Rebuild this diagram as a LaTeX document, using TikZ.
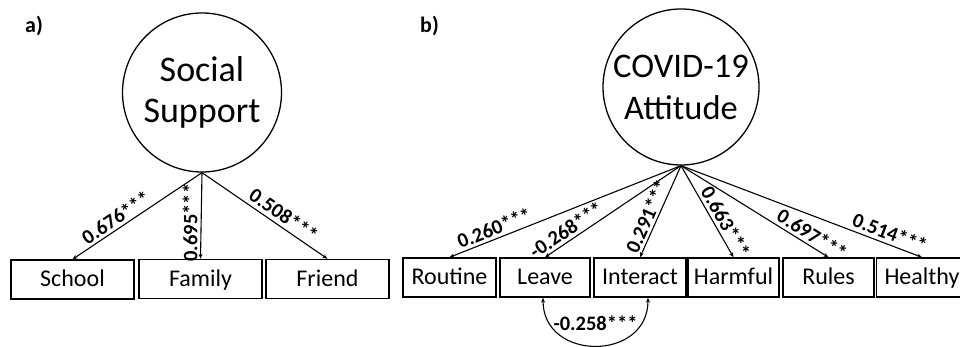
\documentclass[tikz,border=0pt]{standalone}
\usepackage{fontspec}
\setmainfont{Carlito}
\usetikzlibrary{arrows.meta}
\tikzset{
  lat/.style={circle, draw, line width=1.3pt, inner sep=0pt, align=center},
  obs/.style={rectangle, draw, line width=1.4pt, inner sep=0pt, minimum height=39pt, text height=18pt, text depth=4pt, font=\fontsize{24}{28}\selectfont},
  load/.style={line width=1.1pt, -{Stealth[length=5pt,width=4pt]}},
  cov/.style={line width=1.1pt, {Stealth[length=5pt,width=4pt]}-{Stealth[length=5pt,width=4pt]}},
  lab/.style={font=\bfseries\fontsize{20.5}{22}\selectfont, inner sep=0.5pt},
  panel/.style={font=\bfseries\fontsize{22}{26}\selectfont, anchor=base west, inner sep=0pt}
}
\begin{document}
\begin{tikzpicture}[x=1pt,y=-1pt]
\useasboundingbox (0,0) rectangle (960,347);
% panel a
\node[panel] (pa) at (25,33) {a)};
\node[lat, minimum size=159pt, font=\fontsize{36}{41}\selectfont] (ss) at (202,92.5) {Social\\Support};
\node[obs, minimum width=123pt] (school) at (72.5,279.5) {School};
\node[obs, minimum width=123pt] (family) at (200.5,279) {Family};
\node[obs, minimum width=123pt] (friend) at (327.5,279) {Friend};
\draw[load] (ss.south) -- node[lab, pos=0.62, sloped, above=2pt] {0.676***} (school.north);
\draw[load] (ss.south) -- node[lab, pos=0.58, rotate=90, above=2.5pt] {0.695***} (family.north);
\draw[load] (ss.south) -- node[lab, pos=0.60, sloped, above=3pt] {0.508***} (friend.north);
% panel b
\node[panel] (pb) at (420,33) {b)};
\node[lat, minimum size=156pt, font=\fontsize{34.5}{42}\selectfont] (ca) at (681,87) {COVID-19\\Attitude};
\node[obs, minimum width=93pt] (routine) at (449.5,277.5) {Routine};
\node[obs, minimum width=90pt] (leave) at (545,277.5) {Leave};
\node[obs, minimum width=92pt] (interact) at (640,277.5) {Interact};
\node[obs, minimum width=91pt] (harmful) at (733.5,277.5) {Harmful};
\node[obs, minimum width=91pt] (rules) at (828.5,277.5) {Rules};
\node[obs, minimum width=91pt] (healthy) at (922,277.5) {Healthy};
\draw[load] (ca.south) -- node[lab, pos=0.79, sloped, above=2.5pt] {0.260***} (routine.north);
\draw[load] (ca.south) -- node[lab, pos=0.80, sloped, above=2.5pt] {-0.268***} (leave.north);
\draw[load] (ca.south) -- node[lab, pos=0.60, sloped, above=2pt] {0.291***} (interact.north);
\draw[load] (ca.south) -- node[lab, pos=0.67, sloped, above=2.5pt] {0.663***} (harmful.north);
\draw[load] (ca.south) -- node[lab, pos=0.85, sloped, above=2.5pt] {0.697***} (rules.north);
\draw[load] (ca.south) -- node[lab, pos=0.85, sloped, above=3pt] {0.514***} (healthy.north);
\draw[cov] ([xshift=-2pt]leave.south) .. controls +(0,64) and +(0,64) .. node[lab, pos=0.5, above=14pt] {-0.258***} ([xshift=8pt]interact.south);
\end{tikzpicture}
\end{document}
